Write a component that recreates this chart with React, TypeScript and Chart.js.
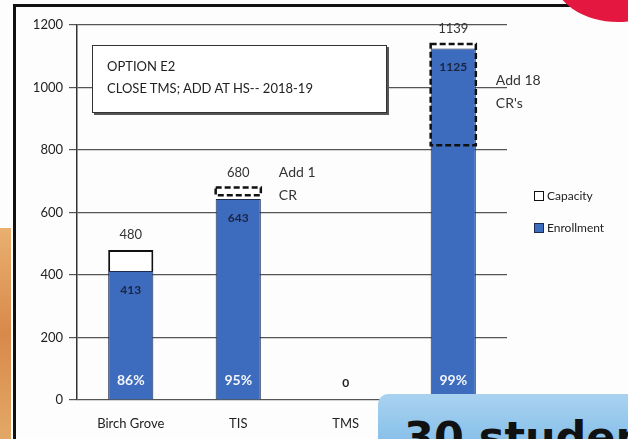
import React, { useEffect, useRef } from "react";
import { Chart, registerables } from "chart.js";

Chart.register(...registerables);

const categories = ["Birch Grove", "TIS", "TMS", ""];
const enrollment = [413, 643, 0, 1125];
const capacity = [480, 680, 0, 1139];
const addedFrom = [null, 655, null, 815];
const percents = ["86%", "95%", "", "99%"];
const addNotes = [null, ["Add 1", "CR"], null, ["Add 18", "CR's"]];
const yTicks = [0, 200, 400, 600, 800, 1000, 1200];

const FONT = "Lato, 'Open Sans', sans-serif";

const labelPlugin = {
  id: "labels",
  afterDatasetsDraw(chart: any) {
    const ctx = chart.ctx;
    const y = chart.scales.y;
    const meta0 = chart.getDatasetMeta(0);
    ctx.save();
    categories.forEach((_, i) => {
      const el = meta0.data[i];
      const cx = el.x;
      const w = el.width;
      if (addedFrom[i] != null) {
        const top = y.getPixelForValue(capacity[i]);
        const bot = y.getPixelForValue(addedFrom[i] as number);
        ctx.setLineDash([6, 3]);
        ctx.lineWidth = 2.5;
        ctx.strokeStyle = "#111";
        ctx.strokeRect(cx - w / 2, top, w, bot - top);
        ctx.setLineDash([]);
      }
      ctx.textAlign = "center";
      ctx.textBaseline = "middle";
      if (capacity[i] > 0) {
        ctx.fillStyle = "#333";
        ctx.font = `13px ${FONT}`;
        ctx.fillText(String(capacity[i]), cx, y.getPixelForValue(capacity[i]) - 15);
        ctx.fillStyle = "#1b2440";
        ctx.font = `bold 12px ${FONT}`;
        ctx.fillText(String(enrollment[i]), cx, y.getPixelForValue(enrollment[i]) + 19);
        ctx.fillStyle = "#f4f6fb";
        ctx.font = `bold 14px ${FONT}`;
        ctx.fillText(percents[i], cx, y.getPixelForValue(0) - 20);
      } else {
        ctx.fillStyle = "#222";
        ctx.font = `bold 12px ${FONT}`;
        ctx.fillText("0", cx, y.getPixelForValue(0) - 17);
      }
      const note = addNotes[i];
      if (note) {
        ctx.textAlign = "left";
        ctx.fillStyle = "#333";
        ctx.font = `14px ${FONT}`;
        const top = y.getPixelForValue(capacity[i]);
        const baseY = i === 1 ? top - 15 : top + 36;
        const nx = cx + w / 2 + (i === 1 ? 18 : 20);
        ctx.fillText(note[0], nx, baseY);
        ctx.fillText(note[1], nx, baseY + 23);
      }
    });
    ctx.restore();
  },
};

export default function App() {
  const ref = useRef<HTMLCanvasElement>(null);
  useEffect(() => {
    document.body.style.margin = "0";
    const chart = new Chart(ref.current as HTMLCanvasElement, {
      type: "bar",
      data: {
        labels: categories,
        datasets: [
          {
            label: "Enrollment",
            data: enrollment,
            backgroundColor: "#3d6cbf",
            borderColor: "#1d2b50",
            borderWidth: 1,
            stack: "s",
          },
          {
            label: "Capacity",
            data: capacity.map((c, i) => c - enrollment[i]),
            backgroundColor: "#ffffff",
            borderColor: "#111",
            borderWidth: capacity.map((_, i) => (addedFrom[i] == null ? 2 : 0)),
            stack: "s",
          },
        ],
      },
      options: {
        responsive: false,
        animation: false,
        devicePixelRatio: 1,
        barPercentage: 0.42,
        categoryPercentage: 1,
        layout: { padding: { left: 15, right: 121, top: 25, bottom: 0 } },
        plugins: { legend: { display: false }, tooltip: { enabled: false } },
        scales: {
          x: {
            stacked: true,
            grid: { display: false },
            border: { display: false },
            ticks: { color: "#222", font: { family: FONT, size: 13 }, padding: 8 },
            afterFit: (s: any) => {
              s.height = 39;
            },
          },
          y: {
            stacked: true,
            min: 0,
            max: 1200,
            afterBuildTicks: (s: any) => {
              s.ticks = yTicks.map((v) => ({ value: v }));
            },
            grid: { color: "#555", lineWidth: 1.2, tickLength: 8 },
            border: { color: "#333", width: 1.5 },
            ticks: {
              color: "#222",
              font: { family: FONT, size: 13 },
              padding: 6,
              callback: (v: any) => String(v),
            },
            afterFit: (s: any) => {
              s.width = 62;
            },
          },
        },
      },
      plugins: [labelPlugin],
    } as any);
    return () => chart.destroy();
  }, []);

  return (
    <div style={{ position: "fixed", left: 0, top: 0, width: 628, height: 439, background: "#fdfdfd", overflow: "hidden", fontFamily: FONT }}>
      <div style={{ position: "absolute", left: 0, top: 228, width: 11, height: 211, background: "linear-gradient(#e9b070,#d8894a,#e3a866)" }} />
      <div style={{ position: "absolute", left: 13, top: 4, width: 700, height: 500, borderLeft: "3px solid #111", borderTop: "3px solid #111" }} />
      <div style={{ position: "absolute", left: 553, top: -70, width: 130, height: 92, borderRadius: "50%", background: "#e3173f" }} />
      <canvas ref={ref} width={628} height={439} style={{ position: "absolute", left: 0, top: 0 }} />
      <div style={{ position: "absolute", left: 92, top: 45, width: 295, height: 68, background: "#fff", border: "1.5px solid #333", boxShadow: "2px 2px 0 #555", boxSizing: "border-box", padding: "9px 0 0 14px", fontSize: 13, color: "#222", lineHeight: "22px" }}>
        <div>OPTION E2</div>
        <div>CLOSE TMS; ADD AT HS-- 2018-19</div>
      </div>
      <div style={{ position: "absolute", left: 534, top: 188, fontSize: 12, color: "#222", lineHeight: "16px" }}>
        <div style={{ display: "flex", alignItems: "center" }}>
          <span style={{ display: "inline-block", width: 8, height: 8, border: "1.5px solid #111", background: "#fff", marginRight: 3 }} />Capacity
        </div>
        <div style={{ display: "flex", alignItems: "center", marginTop: 16 }}>
          <span style={{ display: "inline-block", width: 8, height: 8, border: "1.5px solid #1d2b50", background: "#3d6cbf", marginRight: 3 }} />Enrollment
        </div>
      </div>
      <div style={{ position: "absolute", left: 378, top: 394, width: 270, height: 60, borderRadius: 10, background: "linear-gradient(#a9d2f0,#7fbbe8)", overflow: "hidden" }}>
        <div style={{ position: "absolute", left: 26, top: 18, fontSize: 43, fontWeight: "bold", color: "#111", whiteSpace: "nowrap", fontFamily: "'DejaVu Sans', sans-serif" }}>30 students</div>
      </div>
    </div>
  );
}
